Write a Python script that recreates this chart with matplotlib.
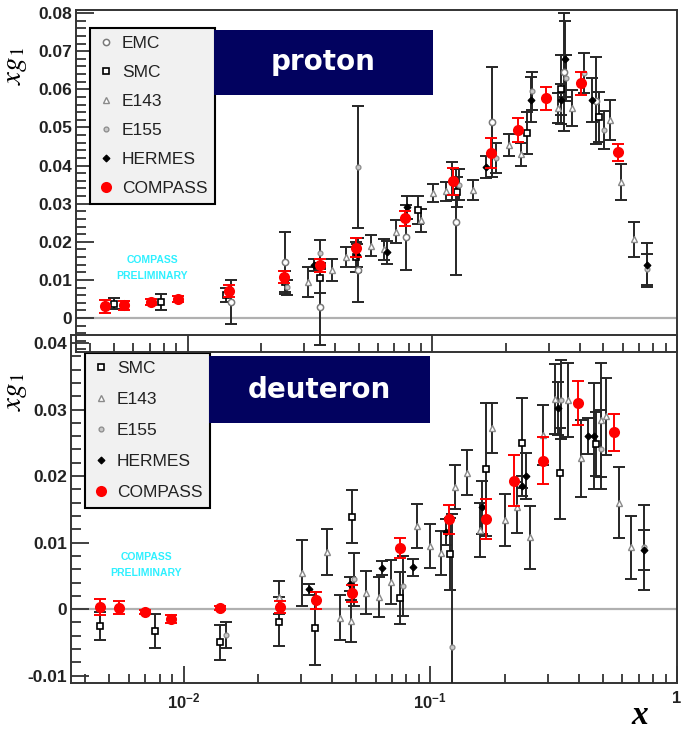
import matplotlib.pyplot as plt
from matplotlib.lines import Line2D
from matplotlib.patches import Rectangle
from matplotlib.ticker import FixedLocator, LogLocator, FuncFormatter, MultipleLocator, NullFormatter

plt.rcParams['font.family'] = ['Liberation Sans', 'DejaVu Sans']
plt.rcParams['mathtext.fontset'] = 'stix'

W, H = 681, 731

# ---------------- proton (x, x*g1, error) ----------------
emc_p_x = [0.0151, 0.0249, 0.0349, 0.0499, 0.0783, 0.125, 0.176, 0.346, 0.467]
emc_p_y = [0.0042, 0.0147, 0.0030, 0.0126, 0.0212, 0.0252, 0.0514, 0.0645, 0.0570]
emc_p_e = [0.0058, 0.0079, 0.0100, 0.0083, 0.0085, 0.0140, 0.0145, 0.0155, 0.0114]

smc_p_x = [0.0050, 0.0078, 0.0143, 0.0249, 0.0349, 0.049, 0.0877, 0.126, 0.244, 0.336, 0.481]
smc_p_y = [0.0038, 0.0042, 0.0060, 0.0094, 0.0105, 0.0160, 0.0283, 0.0330, 0.0485, 0.0600, 0.0527]
smc_p_e = [0.0015, 0.0020, 0.0018, 0.0030, 0.0040, 0.0040, 0.0037, 0.0040, 0.0055, 0.0090, 0.0066]

e143_p_x = [0.0312, 0.0391, 0.0442, 0.0564, 0.0637, 0.0713, 0.0902, 0.101, 0.114, 0.146,
            0.206, 0.231, 0.327, 0.373, 0.533, 0.591, 0.667]
e143_p_y = [0.0094, 0.0126, 0.0160, 0.0190, 0.0180, 0.0226, 0.0257, 0.0328, 0.0333, 0.0336,
            0.0454, 0.0430, 0.0551, 0.0551, 0.0519, 0.0357, 0.0207]
e143_p_e = [0.0040, 0.0030, 0.0026, 0.0027, 0.0028, 0.0030, 0.0030, 0.0023, 0.0025, 0.0026,
            0.0028, 0.0030, 0.0040, 0.0046, 0.0053, 0.0048, 0.0046]

e155_p_x = [0.0254, 0.0349, 0.0499, 0.129, 0.182, 0.256, 0.352, 0.417, 0.504, 0.755]
e155_p_y = [0.0081, 0.0170, 0.0396, 0.0350, 0.0420, 0.0595, 0.0630, 0.0643, 0.0493, 0.0128]
e155_p_e = [0.0020, 0.0035, 0.0160, 0.0040, 0.0040, 0.0050, 0.0060, 0.0053, 0.0050, 0.0040]

hermes_p_x = [0.033, 0.0494, 0.0655, 0.079, 0.120, 0.166, 0.254, 0.336, 0.349, 0.450, 0.755]
hermes_p_y = [0.0139, 0.0165, 0.0173, 0.0290, 0.0360, 0.0396, 0.0573, 0.0573, 0.0680, 0.0572, 0.0139]
hermes_p_e = [0.0015, 0.0030, 0.0030, 0.0030, 0.0050, 0.0028, 0.0060, 0.0040, 0.0100, 0.0057, 0.0057]

compass_p_x = [0.0046, 0.0055, 0.0071, 0.0091, 0.0147, 0.0247, 0.0349, 0.049, 0.0776, 0.122,
               0.173, 0.224, 0.292, 0.406, 0.574]
compass_p_y = [0.0031, 0.0034, 0.0042, 0.0050, 0.0071, 0.0108, 0.0139, 0.0184, 0.0262, 0.0359,
               0.0433, 0.0493, 0.0577, 0.0616, 0.0435]
compass_p_e = [0.0017, 0.0012, 0.0008, 0.0008, 0.0015, 0.0015, 0.0017, 0.0025, 0.0020, 0.0035,
               0.0040, 0.0031, 0.0030, 0.0030, 0.0022]

# ---------------- deuteron ----------------
smc_d_x = [0.0046, 0.0077, 0.0140, 0.0243, 0.0342, 0.0483, 0.0756, 0.1205, 0.1686, 0.236, 0.336, 0.470]
smc_d_y = [-0.0026, -0.0033, -0.0050, -0.0019, -0.0029, 0.0139, 0.0017, 0.0083, 0.0210, 0.0250, 0.0204, 0.0248]
smc_d_e = [0.0021, 0.0025, 0.0026, 0.0037, 0.0055, 0.0040, 0.0039, 0.0054, 0.0100, 0.0068, 0.0068, 0.0048]

e143_d_x = [0.0243, 0.0303, 0.0383, 0.0432, 0.0479, 0.0550, 0.0622, 0.0695, 0.0886, 0.100,
            0.111, 0.126, 0.141, 0.159, 0.178, 0.201, 0.225, 0.254, 0.287, 0.321,
            0.362, 0.409, 0.492, 0.516, 0.582, 0.651]
e143_d_y = [0.0018, 0.0054, 0.0086, -0.0013, -0.0018, 0.0025, 0.0018, 0.0041, 0.0125, 0.0095,
            0.0084, 0.0183, 0.0205, 0.0119, 0.0272, 0.0134, 0.0153, 0.0108, 0.0262, 0.0316,
            0.0314, 0.0227, 0.0284, 0.0290, 0.0160, 0.0093]
e143_d_e = [0.0025, 0.0050, 0.0034, 0.0034, 0.0032, 0.0032, 0.0030, 0.0033, 0.0033, 0.0033,
            0.0033, 0.0033, 0.0034, 0.0041, 0.0038, 0.0039, 0.0038, 0.0047, 0.0045, 0.0053,
            0.0056, 0.0058, 0.0086, 0.0058, 0.0053, 0.0047]

e155_d_x = [0.0148, 0.0492, 0.0778, 0.1227, 0.339, 0.492, 0.735]
e155_d_y = [-0.0039, 0.0045, 0.0035, -0.0057, 0.0315, 0.0240, 0.0093]
e155_d_e = [0.0019, 0.0040, 0.0045, 0.0200, 0.0060, 0.0060, 0.0064]

hermes_d_x = [0.0324, 0.0474, 0.064, 0.0854, 0.116, 0.1625, 0.236, 0.245, 0.330, 0.436, 0.461, 0.735]
hermes_d_y = [0.0030, 0.0038, 0.0062, 0.0063, 0.0116, 0.0153, 0.0185, 0.0200, 0.0302, 0.0260, 0.0260, 0.0089]
hermes_d_e = [0.0008, 0.0010, 0.0010, 0.0013, 0.0020, 0.0040, 0.0015, 0.0035, 0.0040, 0.0027, 0.0080, 0.0030]

compass_d_x = [0.0046, 0.0055, 0.0070, 0.0089, 0.0140, 0.0245, 0.0344, 0.048, 0.0757, 0.1194,
               0.169, 0.219, 0.287, 0.397, 0.556]
compass_d_y = [0.0003, 0.0002, -0.0004, -0.0015, 0.0002, 0.0003, 0.0013, 0.0024, 0.0092, 0.0135,
               0.0135, 0.0193, 0.0223, 0.0310, 0.0266]
compass_d_e = [0.0012, 0.0010, 0.0003, 0.0006, 0.0003, 0.0009, 0.0013, 0.0013, 0.0015, 0.0022,
               0.0030, 0.0038, 0.0035, 0.0033, 0.0028]

STYLE = {
    'EMC': dict(marker='o', ms=4.5, mfc='white', mec='#7a7a7a', mew=1.1),
    'SMC': dict(marker='s', ms=5, mfc='white', mec='black', mew=1.2),
    'E143': dict(marker='^', ms=4.5, mfc='white', mec='#8a8a8a', mew=1.0),
    'E155': dict(marker='o', ms=3.5, mfc='#c8c8c8', mec='#8a8a8a', mew=0.9),
    'HERMES': dict(marker='D', ms=3.5, mfc='black', mec='black', mew=0.8),
    'COMPASS': dict(marker='o', ms=8, mfc='red', mec='red', mew=0),
}


def px_box(l, t, r, b):
    return [l / W, 1 - b / H, (r - l) / W, (b - t) / H]


def plot_set(ax, x, y, e, name):
    ecol = 'red' if name == 'COMPASS' else '#262626'
    z = 6 if name == 'COMPASS' else 3
    ax.errorbar(x, y, yerr=e, fmt='none', ecolor=ecol, elinewidth=1.4,
                capsize=4, capthick=1.4, zorder=z)
    ax.plot(x, y, ls='none', zorder=z + 0.5, **STYLE[name])


def setup(ax, ylim, show_xlabels):
    ax.set_xscale('log')
    ax.set_xlim(0.0035, 1.0)
    ax.set_ylim(*ylim)
    ax.xaxis.set_major_locator(FixedLocator([1e-3, 1e-2, 1e-1, 1]))
    ax.xaxis.set_minor_locator(LogLocator(base=10, subs=range(2, 10), numticks=20))
    ax.xaxis.set_minor_formatter(NullFormatter())
    labels = {0.01: r'$\mathregular{10^{-2}}$', 0.1: r'$\mathregular{10^{-1}}$', 1.0: '1'}
    ax.xaxis.set_major_formatter(FuncFormatter(
        lambda v, _: labels.get(round(v, 3), '')))
    ax.yaxis.set_major_locator(MultipleLocator(0.01))
    ax.yaxis.set_minor_locator(MultipleLocator(0.002))
    ax.yaxis.set_major_formatter(FuncFormatter(
        lambda v, _: '0' if abs(v) < 1e-9 else f'{v:.2f}'))
    ax.tick_params(which='both', direction='in', top=False, right=False, width=1.3, color='#333333')
    ax.tick_params(axis='y', which='major', length=13, pad=3, labelsize=12.5, labelcolor='#222222')
    ax.tick_params(axis='y', which='minor', length=7)
    ax.tick_params(axis='x', which='major', length=12, pad=6, labelsize=12, labelcolor='#222222',
                   labelbottom=show_xlabels)
    ax.tick_params(axis='x', which='minor', length=6.5)
    for lab in ax.get_yticklabels() + ax.get_xticklabels():
        lab.set_fontweight('bold')
    for s in ax.spines.values():
        s.set_linewidth(1.4)
        s.set_color('#333333')
    ax.axhline(0, color='#b0b0b0', lw=1.6, zorder=1)


fig = plt.figure(figsize=(W / 100, H / 100), dpi=100)

ax_d = fig.add_axes(px_box(71, 335, 677, 683))
ax_p = fig.add_axes(px_box(76, 10, 677, 352))
ax_d.set_zorder(1)
ax_p.set_zorder(2)
ax_p.patch.set_visible(False)

setup(ax_p, (-0.0089, 0.0808), False)
setup(ax_d, (-0.0111, 0.0412), True)

plot_set(ax_p, emc_p_x, emc_p_y, emc_p_e, 'EMC')
plot_set(ax_p, smc_p_x, smc_p_y, smc_p_e, 'SMC')
plot_set(ax_p, e143_p_x, e143_p_y, e143_p_e, 'E143')
plot_set(ax_p, e155_p_x, e155_p_y, e155_p_e, 'E155')
plot_set(ax_p, hermes_p_x, hermes_p_y, hermes_p_e, 'HERMES')
plot_set(ax_p, compass_p_x, compass_p_y, compass_p_e, 'COMPASS')

plot_set(ax_d, smc_d_x, smc_d_y, smc_d_e, 'SMC')
plot_set(ax_d, e143_d_x, e143_d_y, e143_d_e, 'E143')
plot_set(ax_d, e155_d_x, e155_d_y, e155_d_e, 'E155')
plot_set(ax_d, hermes_d_x, hermes_d_y, hermes_d_e, 'HERMES')
plot_set(ax_d, compass_d_x, compass_d_y, compass_d_e, 'COMPASS')


def add_legend(ax, names, anchor, spacing):
    handles = [Line2D([], [], ls='none', **STYLE[n]) for n in names]
    leg = ax.legend(handles, names, loc='upper left', bbox_to_anchor=anchor,
                    bbox_transform=ax.transAxes, frameon=True, fancybox=False,
                    edgecolor='black', facecolor='#f1f1f1', framealpha=1,
                    fontsize=12.5, labelspacing=spacing, handlelength=1.0,
                    handletextpad=0.4, borderpad=0.45, borderaxespad=0)
    leg.get_frame().set_linewidth(1.5)
    leg.set_zorder(10)
    for t in leg.get_texts():
        t.set_color('#222222')


add_legend(ax_p, ['EMC', 'SMC', 'E143', 'E155', 'HERMES', 'COMPASS'],
           ((90 - 76) / 601, (352 - 28) / 342), 0.8)
add_legend(ax_d, ['SMC', 'E143', 'E155', 'HERMES', 'COMPASS'],
           ((85 - 71) / 606, (683 - 353) / 348), 0.92)

# title boxes
navy = '#02025f'
for (l, t, r, b), label in [((214, 30, 433, 95), 'proton'), ((209, 356, 430, 423), 'deuteron')]:
    fig.add_artist(Rectangle((l / W, 1 - b / H), (r - l) / W, (b - t) / H,
                             transform=fig.transFigure, facecolor=navy, edgecolor='none', zorder=20))
    fig.text((l + r) / 2 / W, 1 - (t + b) / 2 / H, label, color='white', fontsize=20,
             fontweight='bold', family='DejaVu Sans', ha='center', va='center', zorder=21)

# preliminary stamps
for cx, cy in [(152, 268), (146, 565)]:
    fig.text(cx / W, 1 - (cy - 8) / H, 'COMPASS', color='#2ef0ff', fontsize=7.5,
             fontweight='bold', ha='center', va='center', zorder=21)
    fig.text(cx / W, 1 - (cy + 8) / H, 'PRELIMINARY', color='#2ef0ff', fontsize=7.5,
             fontweight='bold', ha='center', va='center', zorder=21)

# axis titles
fig.text(15 / W, 1 - 66 / H, r'$xg_1$', rotation=90, fontsize=21, ha='center', va='center', zorder=21)
fig.text(15 / W, 1 - 392 / H, r'$xg_1$', rotation=90, fontsize=21, ha='center', va='center', zorder=21)
fig.text(640 / W, 1 - 716 / H, 'x', family='Liberation Serif', style='italic', fontweight='bold',
         fontsize=24, ha='center', va='center')

fig.savefig('out.png', dpi=100)
